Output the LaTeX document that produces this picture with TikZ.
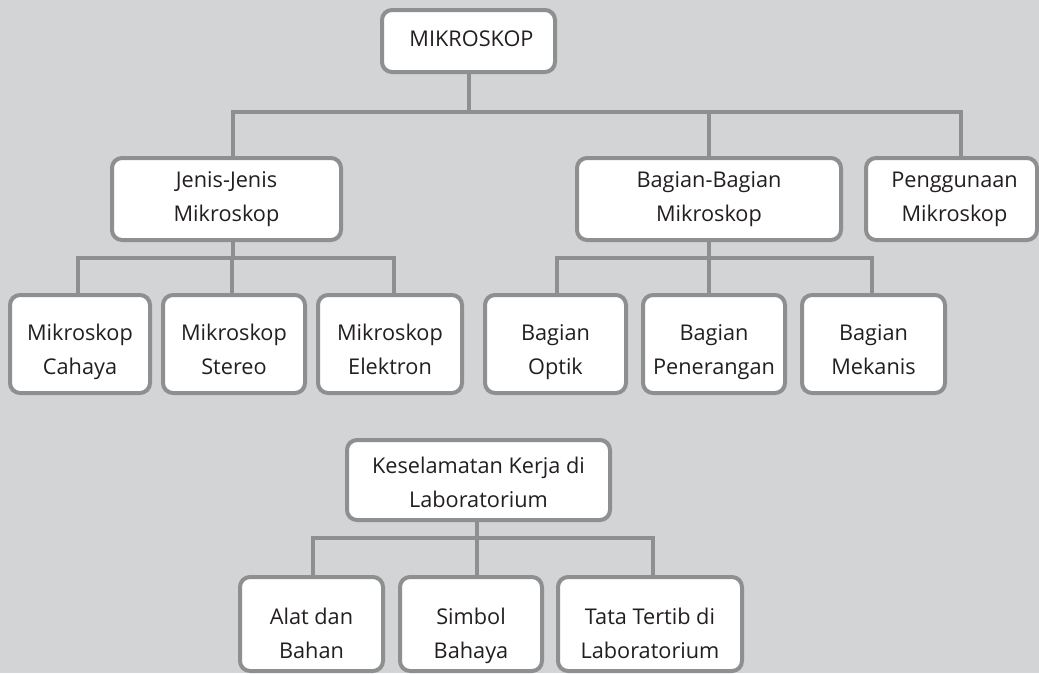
\documentclass[tikz,border=0pt]{standalone}
\usepackage{fontspec}
\setmainfont{Open Sans}
\definecolor{bgc}{RGB}{211,212,214}
\definecolor{linec}{RGB}{142,143,145}
\definecolor{txtc}{RGB}{35,31,32}
\newcommand\stA{\rule[-9pt]{0pt}{29pt}}
\newcommand\hst[1]{\rule{0pt}{#1pt}}
\newcommand\dst{\rule[-7pt]{0pt}{7pt}}
\begin{document}
\begin{tikzpicture}[x=1pt,y=-1pt,
  box/.style={draw=linec,line width=4pt,fill=white,rounded corners=10pt,
    inner sep=0pt,align=center,text=txtc,
    font=\fontsize{21.7}{34}\selectfont},
  conn/.style={draw=linec,line width=4pt}]
\fill[bgc] (0,0) rectangle (1039,673);
\useasboundingbox (0,0) rectangle (1039,673);
% top
\node[box,minimum width=173pt,minimum height=62pt] (mik) at (468.5,41) {\stA\hspace*{6pt}MIKROSKOP};
% level 2
\node[box,minimum width=229pt,minimum height=82pt] (jenis) at (226.5,199) {\hst{18}Jenis-Jenis\\Mikroskop\dst};
\node[box,minimum width=264pt,minimum height=82pt] (bagian) at (709,199) {\hst{18}Bagian-Bagian\\Mikroskop\dst};
\node[box,minimum width=171pt,minimum height=82pt] (guna) at (951.5,199) {\hst{18}\hspace*{6pt}Penggunaan\\\hspace*{6pt}Mikroskop\dst};
% level 3 left
\node[box,minimum width=140pt,minimum height=98pt] (cahaya) at (80,344) {\hst{34}Mikroskop\\Cahaya\dst};
\node[box,minimum width=142pt,minimum height=98pt] (stereo) at (234,344) {\hst{34}Mikroskop\\Stereo\dst};
\node[box,minimum width=144pt,minimum height=98pt] (elektron) at (390,344) {\hst{34}Mikroskop\\Elektron\dst};
% level 3 right
\node[box,minimum width=141pt,minimum height=98pt] (optik) at (555.5,344) {\hst{34}Bagian\\Optik\dst};
\node[box,minimum width=142pt,minimum height=98pt] (penerangan) at (714,344) {\hst{34}Bagian\\Penerangan\dst};
\node[box,minimum width=143pt,minimum height=98pt] (mekanis) at (873.5,344) {\hst{34}Bagian\\Mekanis\dst};
% bottom group
\node[box,minimum width=263pt,minimum height=80pt] (kes) at (478.5,480) {\hst{27}Keselamatan Kerja di\\Laboratorium\dst};
\node[box,minimum width=143pt,minimum height=94pt] (alat) at (311.5,624) {\hst{41}Alat dan\\Bahan\dst};
\node[box,minimum width=142pt,minimum height=94pt] (simbol) at (471,624) {\hst{41}Simbol\\Bahaya\dst};
\node[box,minimum width=184pt,minimum height=94pt] (tata) at (650,624) {\hst{41}Tata Tertib di\\Laboratorium\dst};
% buses
\coordinate (b1) at (0,112);
\coordinate (b2) at (0,258);
\coordinate (b3) at (0,538);
% connectors level 1-2
\draw[conn] (mik.south) -- (mik.south |- b1);
\draw[conn] ([xshift=6.5pt]jenis.north) |- (mik.south |- b1) -| ([xshift=9.5pt]guna.north);
\draw[conn] (bagian.north) -- (bagian.north |- b1);
% connectors jenis
\draw[conn] ([xshift=6pt]jenis.south) -- ([xshift=6pt]jenis.south |- b2);
\draw[conn] ([xshift=-2pt]cahaya.north) |- ([xshift=6pt]jenis.south |- b2) -| ([xshift=4pt]elektron.north);
\draw[conn] ([xshift=-2pt]stereo.north) -- ([xshift=-2pt]stereo.north |- b2);
% connectors bagian
\draw[conn] (bagian.south) -- (bagian.south |- b2);
\draw[conn] ([xshift=1.5pt]optik.north) |- (bagian.south |- b2) -| ([xshift=-1.5pt]mekanis.north);
\draw[conn] ([xshift=-5pt]penerangan.north) -- ([xshift=-5pt]penerangan.north |- b2);
% connectors keselamatan
\draw[conn] ([xshift=-1.5pt]kes.south) -- ([xshift=-1.5pt]kes.south |- b3);
\draw[conn] ([xshift=1.5pt]alat.north) |- ([xshift=-1.5pt]kes.south |- b3) -| ([xshift=3pt]tata.north);
\draw[conn] ([xshift=6pt]simbol.north) -- ([xshift=6pt]simbol.north |- b3);
\end{tikzpicture}
\end{document}
